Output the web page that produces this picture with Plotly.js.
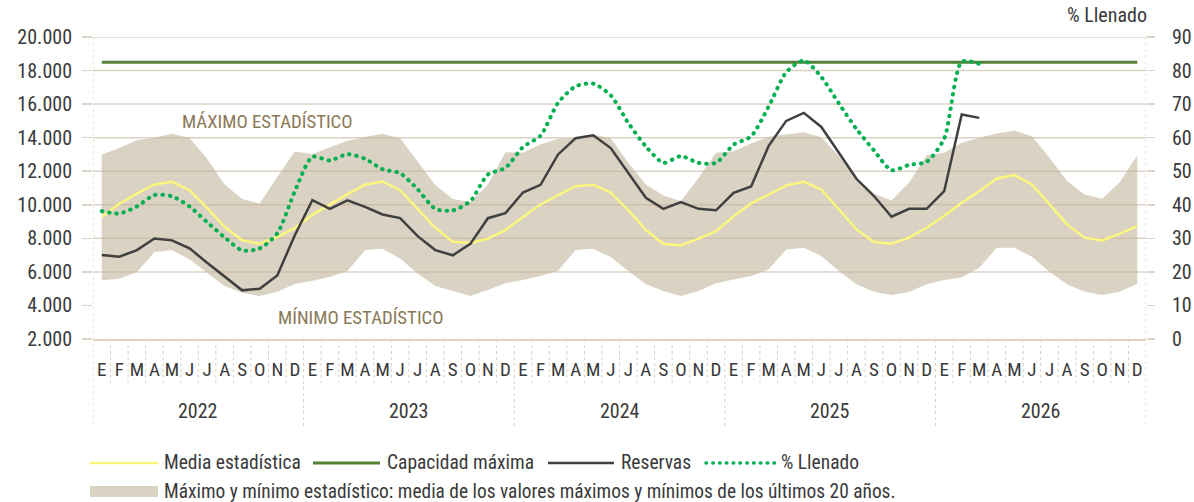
<!DOCTYPE html>
<html>
<head>
<meta charset="utf-8">
<script src="https://cdn.plot.ly/plotly-3.0.1.min.js"></script>
<style>
  html, body { margin: 0; padding: 0; background: #ffffff; }
  #chart { width: 1194px; height: 502px; }
  path.js-line[style*="0.5px"], .shapelayer path[style*="0.5px"] { stroke-linecap: round; }
</style>
</head>
<body>
<div id="chart"></div>
<script>
// ---- Data ----
const meses = ['E','F','M','A','M','J','J','A','S','O','N','D'];
const anios = ['2022','2023','2024','2025','2026'];

const mediaEstadistica = [
  9270,10060,10660,11210,11370,10870,9820,8690,7880,7680,8080,8620,
  9400,10040,10630,11190,11380,10870,9720,8630,7800,7720,7980,8490,
  9270,10020,10580,11110,11190,10730,9680,8490,7680,7580,7980,8430,
  9320,10080,10610,11150,11370,10910,9720,8530,7780,7680,8040,8630,
  9330,10120,10810,11570,11770,11210,10020,8830,8040,7880,8270,8730
];
const maximoEstadistico = [
  13000,13390,13850,14000,14230,13980,12750,11210,10340,10070,11650,13170,
  13020,13400,13820,14040,14230,13960,12600,11180,10340,10160,11210,13130,
  13100,13590,13930,13990,14190,13970,12500,11210,10550,10210,11600,13100,
  13190,13650,14050,14180,14320,14030,12900,11600,10650,10260,11310,12950,
  13100,13690,14000,14250,14420,14090,12800,11410,10620,10360,11350,12940
];
const minimoEstadistico = [
  5500,5590,5990,7180,7300,6750,5950,5160,4760,4560,4810,5280,
  5470,5690,6050,7300,7380,6800,5900,5160,4860,4560,4920,5320,
  5520,5750,6090,7300,7380,6880,6050,5260,4860,4560,4860,5320,
  5550,5750,6150,7340,7440,6950,6050,5260,4820,4620,4800,5260,
  5520,5660,6250,7440,7440,6900,6010,5260,4820,4620,4820,5300
];
const reservas = [
  7000,6900,7300,7990,7880,7400,6550,5700,4900,5000,5790,8180,
  10270,9760,10260,9880,9420,9210,8130,7300,6990,7670,9200,9500,
  10730,11190,13000,13970,14140,13380,11900,10420,9760,10160,9760,9670,
  10710,11090,13510,15000,15480,14640,13100,11550,10520,9290,9760,9760,
  10810,15380,15180
];
const llenado = [
  38.1,37.4,39.5,42.9,42.5,39.5,34.8,30.3,26.4,27.0,31.5,44.0,
  54.3,53.2,55.1,53.7,50.6,49.4,44.6,38.8,38.3,41.1,49.0,51.0,
  57.2,60.6,70.4,75.3,76.1,72.6,64.4,57.4,52.5,54.5,52.5,52.5,
  57.9,60.4,69.3,79.5,83.0,78.1,70.2,62.6,56.2,50.3,51.9,52.8,
  59.7,82.6,82.0
];
const capacidadMaxima = 18500;

const etiquetasLeyenda = ['Media estadística','Capacidad máxima','Reservas','% Llenado'];
const textoBanda = 'Máximo y mínimo estadístico: media de los valores máximos y mínimos de los últimos 20 años.';

// ---- Build ----
const idx = [];
const ticktext = [];
anios.forEach(() => meses.forEach(m => { idx.push(idx.length); ticktext.push(m); }));
const nMes = idx.length;

const FONT = '"Roboto Condensed", "DejaVu Sans Condensed", "Liberation Sans Narrow", "Open Sans Condensed", Roboto, sans-serif';
const TXT = '#3a3a3a';
const GRID = '#dcd3c5';
const SEP = '#d9d0c2';

const C_MEDIA = '#faf67e';
const C_CAP = '#538135';
const C_RES = '#404040';
const C_LLEN = '#00b050';

const traces = [
  { x: idx, y: minimoEstadistico, type: 'scatter', mode: 'lines', line: {width: 0}, hoverinfo: 'skip', showlegend: false },
  { x: idx, y: maximoEstadistico, type: 'scatter', mode: 'lines', line: {width: 0}, fill: 'tonexty',
    fillcolor: 'rgba(194,180,153,0.6)', showlegend: false },
  { x: idx, y: mediaEstadistica, type: 'scatter', mode: 'lines', line: {color: C_MEDIA, width: 2.5}, showlegend: false },
  { x: [idx[0], idx[nMes-1]], y: [capacidadMaxima, capacidadMaxima], type: 'scatter', mode: 'lines',
    line: {color: C_CAP, width: 3}, showlegend: false },
  { x: idx.slice(0, reservas.length), y: reservas, type: 'scatter', mode: 'lines',
    line: {color: C_RES, width: 2.5}, showlegend: false },
  { x: idx.slice(0, llenado.length), y: llenado, type: 'scatter', mode: 'lines', yaxis: 'y2',
    line: {color: C_LLEN, width: 4, dash: '0.5px,6.8px', shape: 'spline', smoothing: 0.7}, showlegend: false }
];

const shapes = [];
// gridlines
[6000,8000,10000,12000,14000,16000,18000,20000].forEach(v => shapes.push({
  type: 'line', xref: 'paper', yref: 'y', x0: 0, x1: 1, y0: v, y1: v,
  line: {color: GRID, width: 1.5}, layer: 'below'
}));
// month / year separators
for (let i = 0; i <= nMes; i++) {
  const b = i - 0.5;
  const edge = (i === 0 || i === nMes);
  const year = (i % 12 === 0);
  shapes.push({
    type: 'line', xref: 'x', yref: 'paper', x0: b, x1: b,
    y0: edge ? 1 : 0, y1: year ? -0.29 : -0.146,
    line: {color: SEP, width: 1, dash: 'dot'}, layer: 'below'
  });
}
// legend samples (paper coords)
const px = v => (v - 93) / 1053;
const py = v => (339 - v) / 302;
const legRow1 = py(463), legRow2 = py(491);
const legSamples = [
  {x0: 90, x1: 158, color: C_MEDIA, width: 2.5, dash: 'solid', tx: 165},
  {x0: 313, x1: 380, color: C_CAP, width: 3, dash: 'solid', tx: 388},
  {x0: 548, x1: 614, color: C_RES, width: 2.5, dash: 'solid', tx: 622},
  {x0: 706, x1: 775, color: C_LLEN, width: 3.5, dash: '0.5px,6.3px', tx: 782}
];
legSamples.forEach(s => shapes.push({
  type: 'line', xref: 'paper', yref: 'paper', x0: px(s.x0), x1: px(s.x1), y0: legRow1, y1: legRow1,
  line: {color: s.color, width: s.width, dash: s.dash}
}));
shapes.push({
  type: 'rect', xref: 'paper', yref: 'paper', x0: px(90), x1: px(158), y0: py(486), y1: py(497),
  fillcolor: 'rgba(194,180,153,0.6)', line: {width: 0}
});

const annotations = [];
anios.forEach((a, k) => annotations.push({
  text: a, xref: 'x', yref: 'paper', x: k * 12 + 5.5, y: py(411), showarrow: false,
  font: {family: FONT, size: 20, color: TXT}, xanchor: 'center', yanchor: 'middle'
}));
legSamples.forEach((s, k) => annotations.push({
  text: etiquetasLeyenda[k], xref: 'paper', yref: 'paper', x: px(s.tx - 3), y: legRow1, showarrow: false,
  font: {family: FONT, size: 19.5, color: TXT}, xanchor: 'left', yanchor: 'middle'
}));
annotations.push({
  text: textoBanda, xref: 'paper', yref: 'paper', x: px(162), y: legRow2, showarrow: false,
  font: {family: FONT, size: 19.4, color: TXT}, xanchor: 'left', yanchor: 'middle'
});
annotations.push({
  text: 'MÁXIMO ESTADÍSTICO', xref: 'paper', yref: 'paper', x: px(267), y: py(122), showarrow: false,
  font: {family: FONT, size: 18.8, color: '#8b7a58'}, xanchor: 'center', yanchor: 'middle'
});
annotations.push({
  text: 'MÍNIMO ESTADÍSTICO', xref: 'paper', yref: 'paper', x: px(361), y: py(318), showarrow: false,
  font: {family: FONT, size: 18.8, color: '#8b7a58'}, xanchor: 'center', yanchor: 'middle'
});
annotations.push({
  text: '% Llenado', xref: 'paper', yref: 'paper', x: px(1149), y: py(15), showarrow: false,
  font: {family: FONT, size: 20, color: TXT}, xanchor: 'right', yanchor: 'middle'
});

const layout = {
  width: 1194, height: 502,
  margin: {l: 93, r: 48, t: 37, b: 163, pad: 0},
  paper_bgcolor: '#ffffff', plot_bgcolor: '#ffffff',
  separators: ',.',
  showlegend: false,
  font: {family: FONT, size: 18, color: TXT},
  xaxis: {
    range: [-0.5, nMes - 0.5], tickmode: 'array', tickvals: idx, ticktext: ticktext,
    showgrid: false, zeroline: false, showline: true, linecolor: GRID, linewidth: 1.5,
    ticks: '', ticklabelstandoff: 13, tickfont: {family: FONT, size: 19, color: TXT}, fixedrange: true
  },
  yaxis: {
    range: [2000, 20000], tickmode: 'linear', tick0: 2000, dtick: 2000, tickformat: ',.0f',
    showgrid: false, zeroline: false, showline: false,
    ticks: 'outside', ticklen: 10, tickcolor: GRID, tickwidth: 1.5, ticklabelstandoff: 6,
    tickfont: {family: FONT, size: 20, color: TXT}, fixedrange: true
  },
  yaxis2: {
    range: [0, 90], overlaying: 'y', side: 'right', tickmode: 'linear', tick0: 0, dtick: 10,
    showgrid: false, zeroline: false, showline: false,
    ticks: 'outside', ticklen: 8, tickcolor: GRID, tickwidth: 1.5, ticklabelstandoff: 13,
    tickfont: {family: FONT, size: 20, color: TXT}, fixedrange: true
  },
  shapes: shapes,
  annotations: annotations
};

Plotly.newPlot('chart', traces, layout, {displayModeBar: false, staticPlot: true});
</script>
</body>
</html>
